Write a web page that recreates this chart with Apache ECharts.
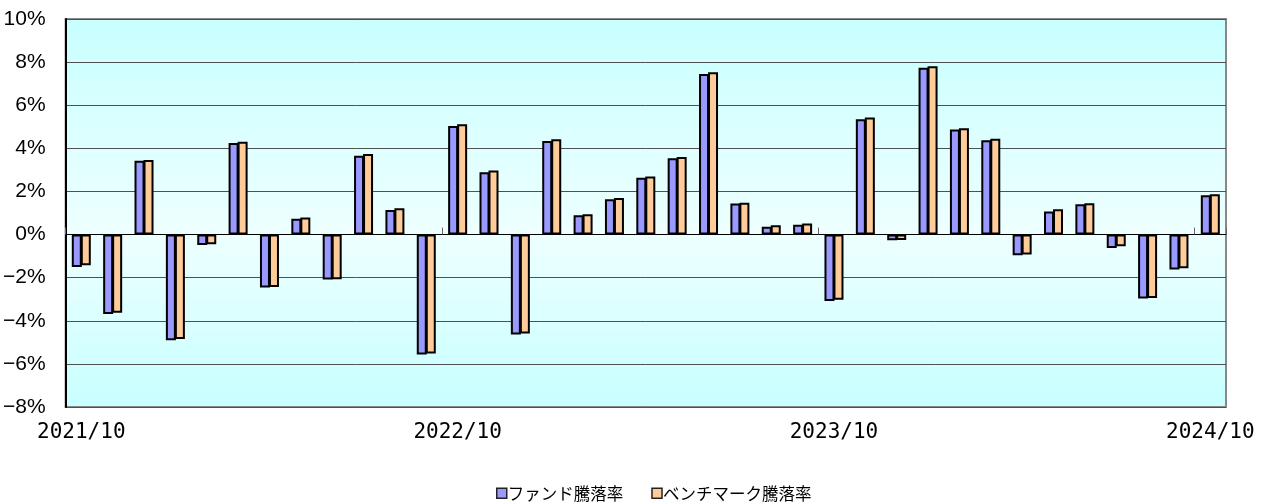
<!DOCTYPE html>
<html>
<head>
<meta charset="utf-8">
<script src="https://cdn.jsdelivr.net/npm/echarts@6/dist/echarts.min.js"></script>
<style>
html,body{margin:0;padding:0;background:#fff;}
#c{width:1265px;height:502px;}
</style>
</head>
<body>
<div id="c"></div>
<script>
const categories = [
  '2021/10','2021/11','2021/12','2022/01','2022/02','2022/03','2022/04','2022/05','2022/06','2022/07','2022/08','2022/09',
  '2022/10','2022/11','2022/12','2023/01','2023/02','2023/03','2023/04','2023/05','2023/06','2023/07','2023/08','2023/09',
  '2023/10','2023/11','2023/12','2024/01','2024/02','2024/03','2024/04','2024/05','2024/06','2024/07','2024/08','2024/09',
  '2024/10'
];
const fundReturns = [
  -1.50, -3.69, 3.42, -4.90, -0.49, 4.25, -2.46, 0.73, -2.09, 3.66, 1.14, -5.56,
  5.04, 2.89, -4.64, 4.34, 0.90, 1.64, 2.64, 3.54, 7.45, 1.44, 0.36, 0.45,
  -3.08, 5.35, -0.26, 7.74, 4.87, 4.37, -0.96, 1.07, 1.41, -0.62, -2.97, -1.62,
  1.82
];
const benchmarkReturns = [
  -1.42, -3.63, 3.46, -4.84, -0.45, 4.31, -2.43, 0.79, -2.07, 3.74, 1.22, -5.52,
  5.12, 2.97, -4.59, 4.42, 0.94, 1.70, 2.69, 3.60, 7.53, 1.48, 0.43, 0.51,
  -3.03, 5.43, -0.25, 7.81, 4.93, 4.44, -0.93, 1.17, 1.45, -0.54, -2.94, -1.56,
  1.87
];
const seriesNames = ['ファンド騰落率', 'ベンチマーク騰落率'];
const yTicks = {min: -8, max: 10, interval: 2};

const axisFont = "'Liberation Sans', Arial, sans-serif";
const chart = echarts.init(document.getElementById('c'), null, {renderer: 'canvas'});
chart.setOption({
  animation: false,
  backgroundColor: '#ffffff',
  grid: {
    left: 63, right: 39, top: 19, bottom: 95,
    show: true,
    borderColor: '#888888',
    borderWidth: 2,
    backgroundColor: {
      type: 'linear', x: 0, y: 0, x2: 0, y2: 1,
      colorStops: [
        {offset: 0, color: '#c8ffff'},
        {offset: 0.55, color: '#eeffff'},
        {offset: 1, color: '#c8ffff'}
      ]
    }
  },
  legend: {
    top: 480,
    left: 491,
    itemWidth: 10,
    itemHeight: 10,
    itemGap: 28,
    icon: 'rect',
    itemStyle: {borderColor: '#222', borderWidth: 1.5},
    textStyle: {fontFamily: "'Noto Sans CJK JP', sans-serif", fontSize: 16.5, color: '#000', padding: [0, 0, 0, -4]},
    data: seriesNames
  },
  xAxis: [
    {
      type: 'category',
      data: categories,
      position: 'bottom',
      axisLine: {onZero: false, show: false},
      axisTick: {show: false},
      axisLabel: {
        interval: 11,
        color: '#000',
        fontSize: 21,
        fontFamily: "'DejaVu Sans Mono', 'Liberation Mono', monospace",
        margin: 15
      },
      splitLine: {show: false}
    },
    {
      type: 'category',
      data: categories,
      position: 'bottom',
      axisLine: {onZero: true, show: true, lineStyle: {color: '#000', width: 1}},
      axisTick: {show: true, inside: true, interval: 11, length: 7, lineStyle: {color: '#666', width: 1}},
      axisLabel: {show: false},
      splitLine: {show: false}
    }
  ],
  yAxis: {
    type: 'value',
    min: yTicks.min,
    max: yTicks.max,
    interval: yTicks.interval,
    axisLine: {show: true, lineStyle: {color: '#000', width: 2}},
    axisTick: {show: false},
    axisLabel: {
      color: '#000',
      fontSize: 21,
      fontFamily: axisFont,
      margin: 20,
      formatter: function (v) { return (v < 0 ? '\u2212' + Math.abs(v) : v) + '%'; }
    },
    splitLine: {show: true, lineStyle: {color: '#505050', width: 1}}
  },
  series: [
    {
      name: seriesNames[0],
      type: 'bar',
      xAxisIndex: 0,
      data: fundReturns,
      barWidth: 10,
      barGap: '-10%',
      itemStyle: {color: '#9999ff', borderColor: '#000', borderWidth: 2}
    },
    {
      name: seriesNames[1],
      type: 'bar',
      xAxisIndex: 0,
      data: benchmarkReturns,
      barWidth: 10,
      barGap: '-10%',
      itemStyle: {color: '#ffcc99', borderColor: '#000', borderWidth: 2}
    }
  ]
});
</script>
</body>
</html>
